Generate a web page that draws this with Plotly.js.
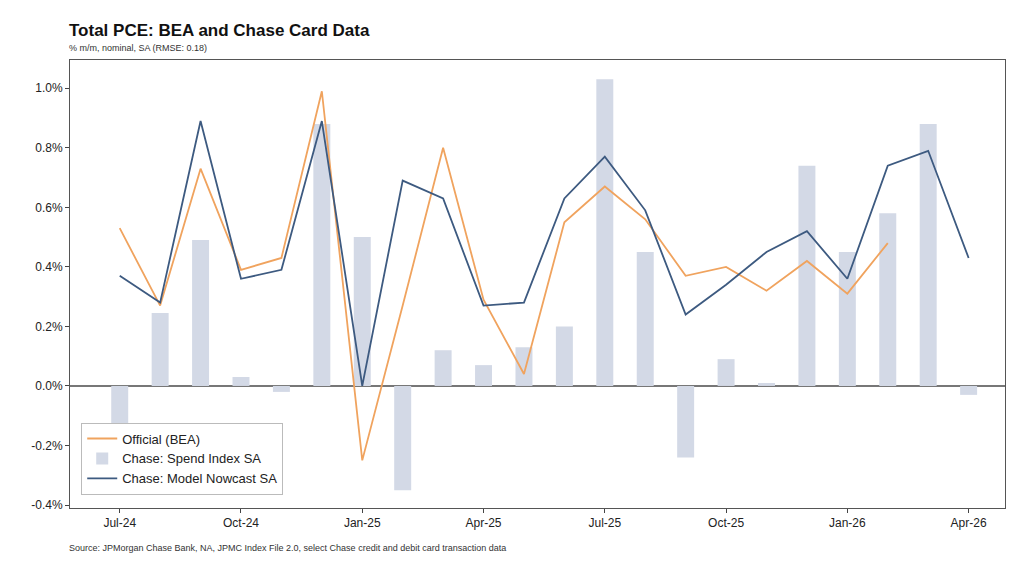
<!DOCTYPE html>
<html>
<head>
<meta charset="utf-8">
<script src="https://cdn.plot.ly/plotly-3.0.1.min.js"></script>
<style>body{margin:0;background:#fff}#chart{width:1030px;height:564px}</style>
</head>
<body>
<div id="chart"></div>
<script>
'use strict';

// Months Jul-24 .. Apr-26
let months = ['Jul-24','Aug-24','Sep-24','Oct-24','Nov-24','Dec-24','Jan-25','Feb-25','Mar-25','Apr-25','May-25','Jun-25',
    'Jul-25','Aug-25','Sep-25','Oct-25','Nov-25','Dec-25','Jan-26','Feb-26','Mar-26','Apr-26'];
let official = [0.53,0.27,0.73,0.39,0.43,0.99,-0.25,0.27,0.80,0.29,0.04,0.55,0.67,0.56,0.37,0.40,0.32,0.42,0.31,0.48,null,null];
let spendIndex = [-0.16,0.245,0.49,0.03,-0.02,0.88,0.50,-0.35,0.12,0.07,0.13,0.20,1.03,0.45,-0.24,0.09,0.01,0.74,0.45,0.58,0.88,-0.03];
let nowcast = [0.37,0.28,0.89,0.36,0.39,0.89,0.0,0.69,0.63,0.27,0.28,0.63,0.77,0.59,0.24,0.34,0.45,0.52,0.36,0.74,0.79,0.43];
let tickMonths = ['Jul-24','Oct-24','Jan-25','Apr-25','Jul-25','Oct-25','Jan-26','Apr-26'];

let idx = months.map((m, i) => i);
let tickVals = tickMonths.map(m => months.indexOf(m));

let data = [
    {x: idx, y: official, type: 'scatter', mode: 'lines', name: 'Official (BEA)',
     line: {color: '#f0a35e', width: 1.8}},
    {x: idx, y: spendIndex, type: 'bar', name: 'Chase: Spend Index SA',
     marker: {color: '#d3d9e6'}, width: 0.42},
    {x: idx, y: nowcast, type: 'scatter', mode: 'lines', name: 'Chase: Model Nowcast SA',
     line: {color: '#3d5a80', width: 1.8}}
];

let layout = {
    width: 1030, height: 564,
    margin: {l: 70, r: 25, t: 60, b: 56},
    paper_bgcolor: '#fff', plot_bgcolor: '#fff',
    font: {family: 'Liberation Sans, Arial, sans-serif', size: 12, color: '#222'},
    showlegend: true,
    legend: {x: 0.012, y: 0.03, xanchor: 'left', yanchor: 'bottom', bordercolor: '#bbb', borderwidth: 1,
        bgcolor: '#fff', font: {size: 13}, traceorder: 'normal'},
    xaxis: {range: [-1.23, 21.9], tickvals: tickVals, ticktext: tickMonths, showgrid: false,
        zeroline: false, showline: true, mirror: true, linecolor: '#555', ticks: 'outside',
        ticklen: 4, tickfont: {size: 12}},
    yaxis: {range: [-0.41, 1.095], tickvals: [-0.4,-0.2,0,0.2,0.4,0.6,0.8,1.0],
        ticktext: ['-0.4%','-0.2%','0.0%','0.2%','0.4%','0.6%','0.8%','1.0%'], showgrid: false,
        zeroline: true, zerolinecolor: '#777', zerolinewidth: 1.5, showline: true, mirror: true,
        linecolor: '#555', ticks: 'outside', ticklen: 4, tickfont: {size: 12}},
    annotations: [
        {text: '<b>Total PCE: BEA and Chase Card Data</b>', xref: 'paper', yref: 'paper', x: -0.003, y: 1.04,
         xanchor: 'left', yanchor: 'bottom', showarrow: false, font: {size: 17, color: '#111'}},
        {text: '% m/m, nominal, SA (RMSE: 0.18)', xref: 'paper', yref: 'paper', x: -0.003, y: 1.012,
         xanchor: 'left', yanchor: 'bottom', showarrow: false, font: {size: 9, color: '#333'}},
        {text: 'Source: JPMorgan Chase Bank, NA, JPMC Index File 2.0, select Chase credit and debit card transaction data',
         xref: 'paper', yref: 'paper', x: -0.003, y: -0.073, xanchor: 'left', yanchor: 'top', showarrow: false,
         font: {size: 9, color: '#333'}}
    ]
};

Plotly.newPlot('chart', data, layout, {displayModeBar: false});
</script>
</body>
</html>
